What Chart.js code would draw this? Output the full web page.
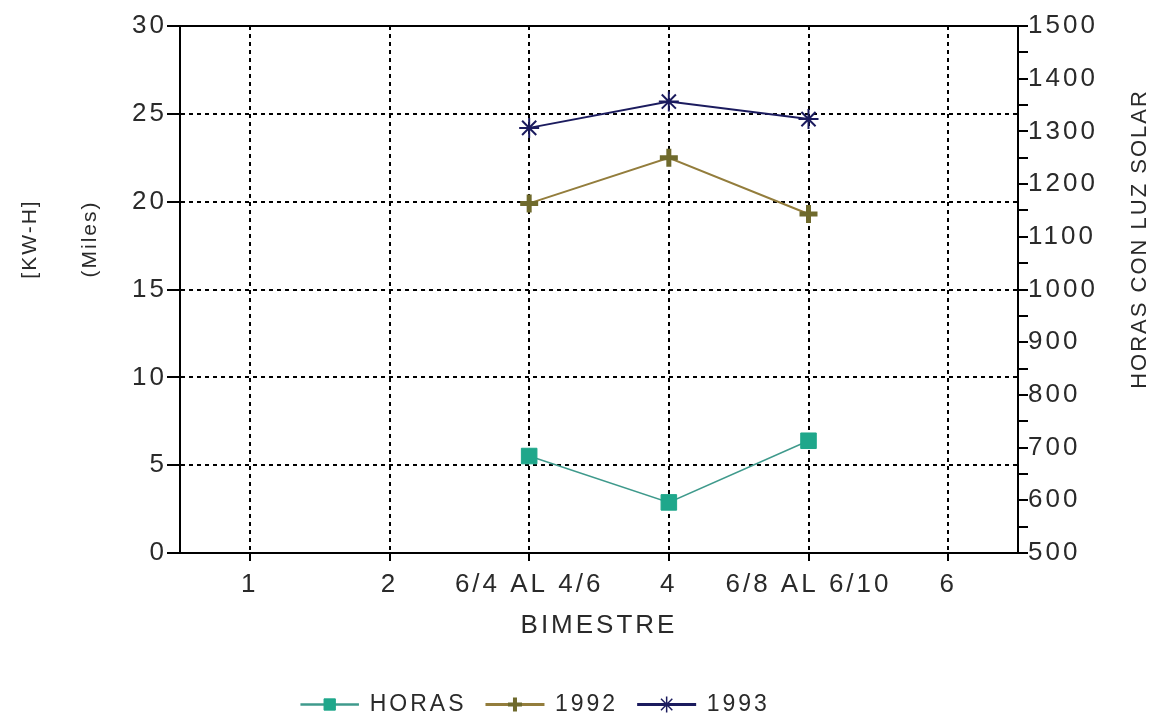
<!DOCTYPE html>
<html>
<head>
<meta charset="utf-8">
<script src="https://cdn.jsdelivr.net/npm/chart.js@4.4.1/dist/chart.umd.min.js"></script>
<style>
	html, body { margin: 0; padding: 0; background: #fff; }
	#cadre { width: 1167px; height: 717px; }
</style>
</head>
<body>
<div id="cadre"><canvas id="graphique-bimestre"></canvas></div>
<script>
// Données
const bimestres = ['1', '2', '6/4 AL 4/6', '4', '6/8 AL 6/10', '6'];
const horas = [null, null, 684, 596, 713, null];
const kwh1992 = [null, null, 19.9, 22.5, 19.3, null];
const kwh1993 = [null, null, 24.2, 25.7, 24.7, null];
const etiquettes = ['HORAS', '1992', '1993'];

const police = "'Liberation Sans', Arial, sans-serif";
const couleurTexte = '#2a2a2a';

// Espacement des lettres du texte Chart.js
const espacementPlugin = {
	id: 'espacement',
	beforeLayout(chart) { chart.ctx.letterSpacing = '3px'; },
	beforeDraw(chart) { chart.ctx.letterSpacing = '3px'; },
	afterLayout(chart) {
		// déplacer la légende comme sur l'original
		chart.legend.top += 9;
		chart.legend.bottom += 9;
		chart.legend.left -= 48;
		chart.legend.right -= 48;
	},
	afterDraw(chart) {
		const ctx = chart.ctx;
		ctx.save();
		ctx.fillStyle = couleurTexte;
		ctx.textAlign = 'center';
		ctx.textBaseline = 'middle';
		// titres des axes verticaux (lus de bas en haut)
		const titres = [
			{ texte: '[KW-H]', x: 30, taille: 21, esp: '2px' },
			{ texte: '(Miles)', x: 90, taille: 21, esp: '2px' },
			{ texte: 'HORAS CON LUZ SOLAR', x: 1140, taille: 22, esp: '2px' },
		];
		for (const t of titres) {
			ctx.save();
			ctx.letterSpacing = t.esp;
			ctx.font = t.taille + 'px ' + police;
			ctx.translate(t.x, 239);
			ctx.rotate(-Math.PI / 2);
			ctx.fillText(t.texte, 0, 0);
			ctx.restore();
		}
		// marqueurs de la légende
		const legende = chart.legend;
		const boxWidth = legende.options.labels.boxWidth;
		legende.legendHitBoxes.forEach((box, i) => {
			const ds = chart.data.datasets[i];
			ctx.fillStyle = ds.pointBackgroundColor;
			ctx.strokeStyle = ds.pointBorderColor;
			ctx.lineWidth = ds.legendBorderWidth;
			Chart.helpers.drawPoint(ctx, {
				pointStyle: ds.pointStyle,
				radius: ds.legendRadius,
				borderWidth: ds.legendBorderWidth,
				rotation: 0,
			}, box.left + boxWidth / 2, box.top + box.height / 2);
		});
		ctx.restore();
	},
};

const pointilles = (c) => {
	if (c.tick && c.tick.value > 0 && c.tick.value < 30) return [4, 4];
	return [];
};

const data = {
	labels: bimestres,
	datasets: [
		{
			label: etiquettes[0],
			data: horas,
			yAxisID: 'y2',
			borderColor: '#3f9a8c',
			backgroundColor: '#3f9a8c',
			borderWidth: 1.5,
			pointStyle: 'rect',
			pointRadius: 11,
			legendRadius: 8,
			legendBorderWidth: 1,
			pointBackgroundColor: '#1fa78b',
			pointBorderColor: '#1fa78b',
			pointBorderWidth: 1,
		},
		{
			label: etiquettes[1],
			data: kwh1992,
			yAxisID: 'y',
			borderColor: '#937d3c',
			backgroundColor: '#937d3c',
			borderWidth: 2,
			pointStyle: 'cross',
			pointRadius: 9,
			legendRadius: 7,
			legendBorderWidth: 4,
			pointBackgroundColor: '#6f6a2c',
			pointBorderColor: '#6f6a2c',
			pointBorderWidth: 5,
		},
		{
			label: etiquettes[2],
			data: kwh1993,
			yAxisID: 'y',
			borderColor: '#1b1b5e',
			backgroundColor: '#1b1b5e',
			borderWidth: 2,
			pointStyle: 'star',
			pointRadius: 10,
			legendRadius: 8,
			legendBorderWidth: 1.5,
			pointBackgroundColor: '#1b1b5e',
			pointBorderColor: '#1b1b5e',
			pointBorderWidth: 2,
		},
	],
};

const config = {
	type: 'line',
	data: data,
	plugins: [espacementPlugin],
	options: {
		responsive: true,
		maintainAspectRatio: false,
		animation: false,
		layout: { padding: { top: 26, right: 0, left: 0, bottom: 0 } },
		plugins: {
			tooltip: { enabled: false },
			legend: {
				position: 'bottom',
				labels: {
					boxWidth: 57,
					boxHeight: 1,
					padding: 20,
					color: couleurTexte,
					font: { family: police, size: 23 },
				},
			},
		},
		scales: {
			x: {
				offset: true,
				afterFit(scale) { scale.height = 111; },
				grid: { color: '#000', lineWidth: 2, tickLength: 8, offset: false },
				border: { color: '#000', width: 2, dash: [4, 4] },
				ticks: { color: couleurTexte, padding: 8, font: { family: police, size: 26 }, maxRotation: 0, autoSkip: false },
				title: {
					display: true,
					text: 'BIMESTRE',
					color: couleurTexte,
					font: { family: police, size: 26 },
					padding: { top: 0, bottom: 23 },
				},
			},
			y: {
				position: 'left',
				min: 0,
				max: 30,
				afterFit(scale) { scale.width = 180; },
				grid: { color: '#000', lineWidth: 2, tickLength: 13 },
				border: { color: '#000', width: 2, dash: pointilles },
				ticks: { stepSize: 5, color: couleurTexte, padding: 0, font: { family: police, size: 26 } },
			},
			y2: {
				position: 'right',
				min: 500,
				max: 1500,
				afterFit(scale) { scale.width = 149; },
				grid: { drawOnChartArea: false, color: '#000', lineWidth: 2, tickLength: 10 },
				border: { color: '#000', width: 2 },
				ticks: {
					stepSize: 50,
					autoSkip: false,
					color: couleurTexte,
					padding: 0,
					font: { family: police, size: 26 },
					callback: (v) => (v % 100 === 0 ? v : ''),
				},
			},
		},
	},
};

new Chart(document.querySelector('#graphique-bimestre'), config);
</script>
</body>
</html>
